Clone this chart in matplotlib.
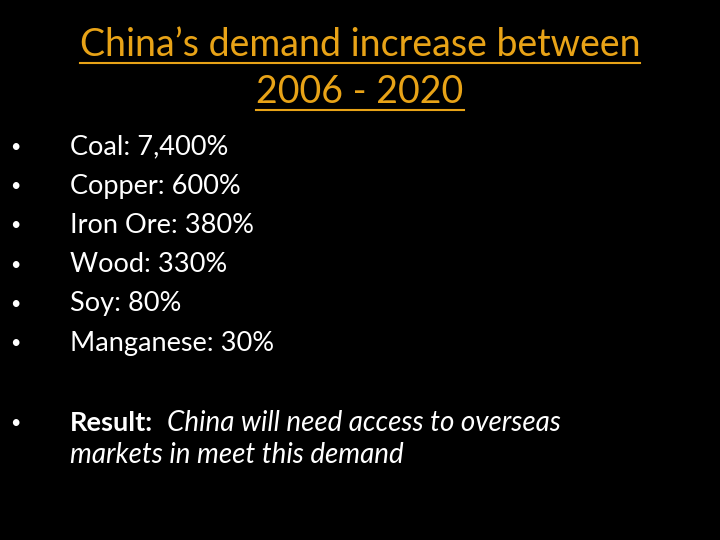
import matplotlib
matplotlib.use("Agg")
import matplotlib.pyplot as plt
from matplotlib.lines import Line2D

title_lines = ["China’s demand increase between", "2006 - 2020"]
commodities = ["Coal", "Copper", "Iron Ore", "Wood", "Soy", "Manganese"]
increases = ["7,400%", "600%", "380%", "330%", "80%", "30%"]
result_label = "Result:"
result_text = ["China will need access to overseas", "markets in meet this demand"]

plt.rcParams['font.family'] = ['Lato', 'DejaVu Sans']
fig = plt.figure(figsize=(7.2, 5.4), dpi=100, facecolor='black')
W, H = 720, 540
def px(x, y):
    return x / W, 1 - y / H

orange = '#E8A317'
title_y = [45, 92]
texts = []
for t, y in zip(title_lines, title_y):
    texts.append(fig.text(*px(360, y), t, color=orange, fontsize=27, ha='center', va='center'))

fs = 19.5
for i, (c, v) in enumerate(zip(commodities, increases)):
    y = 147 + i * 39.2
    fig.text(*px(10, y), "•", color='white', fontsize=13, ha='left', va='center')
    fig.text(*px(70, y), f"{c}: {v}", color='white', fontsize=fs, ha='left', va='center')

fig.text(*px(10, 423), "•", color='white', fontsize=13, ha='left', va='center')
lab = fig.text(*px(70, 423), result_label, color='white', fontsize=fs, ha='left', va='center', fontweight='bold')
fig.canvas.draw()
r = fig.canvas.get_renderer()
bb = lab.get_window_extent(r)
fig.text((bb.x1 + 14) / W, 1 - 423 / H, result_text[0], color='white', fontsize=20, ha='left', va='center', style='italic')
fig.text(*px(70, 455), result_text[1], color='white', fontsize=20, ha='left', va='center', style='italic')

for t, y in zip(texts, title_y):
    b = t.get_window_extent(r)
    yy = 1 - (y + 18) / H
    fig.add_artist(Line2D([b.x0 / W, b.x1 / W], [yy, yy], color=orange, lw=1.5))

fig.savefig("out.png", facecolor='black')
